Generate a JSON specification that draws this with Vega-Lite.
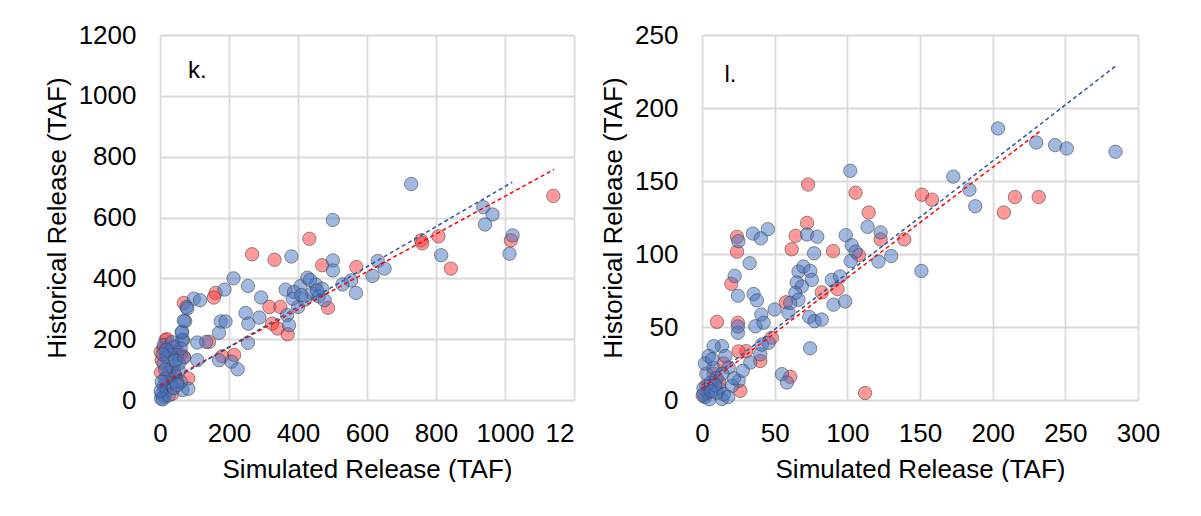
{
  "$schema": "https://vega.github.io/schema/vega-lite/v6.json",
  "background": "white",
  "padding": {"left": 44, "top": 22, "right": 0, "bottom": 0},
  "autosize": {"type": "pad"},
  "bounds": "flush",
  "spacing": 128,
  "config": {
    "view": {"stroke": null},
    "axis": {
      "labelFont": "Liberation Sans", "labelFontSize": 26, "labelColor": "#000",
      "titleFont": "Liberation Sans", "titleFontSize": 26, "titleFontWeight": "normal", "titleColor": "#000",
      "gridColor": "#d9d9d9", "gridWidth": 1.8, "ticks": false, "domain": false, "labelFlush": false, "format": "d"
    },
    "axisX": {"labelPadding": 20, "titlePadding": 10},
    "axisY": {"labelPadding": 24, "titlePadding": 8}
  },
  "datasets": {
    "k": [
      {"x":1140,"y":671,"s":"R"},{"x":757,"y":525,"s":"R"},{"x":760,"y":515,"s":"R"},{"x":807,"y":538,"s":"R"},
      {"x":1017,"y":525,"s":"R"},{"x":843,"y":432,"s":"R"},{"x":433,"y":530,"s":"R"},{"x":267,"y":479,"s":"R"},
      {"x":332,"y":461,"s":"R"},{"x":470,"y":443,"s":"R"},{"x":569,"y":437,"s":"R"},{"x":487,"y":303,"s":"R"},
      {"x":161,"y":352,"s":"R"},{"x":156,"y":337,"s":"R"},{"x":69,"y":319,"s":"R"},{"x":317,"y":306,"s":"R"},
      {"x":349,"y":306,"s":"R"},{"x":325,"y":251,"s":"R"},{"x":341,"y":235,"s":"R"},{"x":370,"y":216,"s":"R"},
      {"x":142,"y":191,"s":"R"},{"x":215,"y":148,"s":"R"},{"x":180,"y":144,"s":"R"},{"x":82,"y":71,"s":"R"},
      {"x":69,"y":142,"s":"R"},{"x":16,"y":197,"s":"R"},{"x":2,"y":158,"s":"R"},{"x":10,"y":170,"s":"R"},
      {"x":20,"y":200,"s":"R"},{"x":5,"y":130,"s":"R"},{"x":40,"y":100,"s":"R"},{"x":50,"y":60,"s":"R"},
      {"x":30,"y":80,"s":"R"},{"x":60,"y":150,"s":"R"},{"x":3,"y":90,"s":"R"},{"x":15,"y":40,"s":"R"},
      {"x":35,"y":20,"s":"R"},{"x":45,"y":175,"s":"R"},
      {"x":728,"y":710,"s":"B"},{"x":501,"y":592,"s":"B"},{"x":937,"y":634,"s":"B"},{"x":964,"y":610,"s":"B"},
      {"x":942,"y":577,"s":"B"},{"x":1022,"y":541,"s":"B"},{"x":1013,"y":481,"s":"B"},{"x":815,"y":476,"s":"B"},
      {"x":381,"y":472,"s":"B"},{"x":501,"y":459,"s":"B"},{"x":501,"y":426,"s":"B"},{"x":631,"y":457,"s":"B"},
      {"x":651,"y":432,"s":"B"},{"x":616,"y":408,"s":"B"},{"x":554,"y":393,"s":"B"},{"x":529,"y":380,"s":"B"},
      {"x":568,"y":352,"s":"B"},{"x":213,"y":400,"s":"B"},{"x":187,"y":363,"s":"B"},{"x":255,"y":375,"s":"B"},
      {"x":293,"y":337,"s":"B"},{"x":98,"y":333,"s":"B"},{"x":116,"y":328,"s":"B"},{"x":77,"y":306,"s":"B"},
      {"x":73,"y":259,"s":"B"},{"x":63,"y":221,"s":"B"},{"x":67,"y":197,"s":"B"},{"x":248,"y":286,"s":"B"},
      {"x":256,"y":251,"s":"B"},{"x":288,"y":271,"s":"B"},{"x":176,"y":258,"s":"B"},{"x":190,"y":258,"s":"B"},
      {"x":171,"y":221,"s":"B"},{"x":108,"y":189,"s":"B"},{"x":134,"y":191,"s":"B"},{"x":255,"y":188,"s":"B"},
      {"x":108,"y":131,"s":"B"},{"x":171,"y":131,"s":"B"},{"x":207,"y":126,"s":"B"},{"x":225,"y":101,"s":"B"},
      {"x":65,"y":33,"s":"B"},{"x":82,"y":37,"s":"B"},{"x":364,"y":363,"s":"B"},{"x":388,"y":355,"s":"B"},
      {"x":407,"y":374,"s":"B"},{"x":427,"y":402,"s":"B"},{"x":451,"y":380,"s":"B"},{"x":441,"y":350,"s":"B"},
      {"x":460,"y":341,"s":"B"},{"x":477,"y":328,"s":"B"},{"x":400,"y":306,"s":"B"},{"x":368,"y":279,"s":"B"},
      {"x":374,"y":246,"s":"B"},{"x":470,"y":366,"s":"B"},{"x":385,"y":333,"s":"B"},{"x":420,"y":330,"s":"B"},
      {"x":435,"y":395,"s":"B"},{"x":455,"y":360,"s":"B"},{"x":410,"y":345,"s":"B"},
      {"x":11,"y":181,"s":"B"},{"x":40,"y":175,"s":"B"},{"x":64,"y":197,"s":"B"},{"x":64,"y":225,"s":"B"},
      {"x":69,"y":261,"s":"B"},{"x":79,"y":301,"s":"B"},{"x":50,"y":148,"s":"B"},{"x":55,"y":120,"s":"B"},
      {"x":30,"y":160,"s":"B"},{"x":20,"y":140,"s":"B"},{"x":35,"y":110,"s":"B"},{"x":10,"y":120,"s":"B"},
      {"x":25,"y":90,"s":"B"},{"x":45,"y":80,"s":"B"},{"x":15,"y":70,"s":"B"},{"x":30,"y":55,"s":"B"},
      {"x":10,"y":45,"s":"B"},{"x":20,"y":30,"s":"B"},{"x":5,"y":20,"s":"B"},{"x":12,"y":10,"s":"B"},
      {"x":3,"y":5,"s":"B"},{"x":8,"y":2,"s":"B"},{"x":25,"y":15,"s":"B"},{"x":40,"y":40,"s":"B"},
      {"x":60,"y":60,"s":"B"},{"x":55,"y":95,"s":"B"},{"x":45,"y":130,"s":"B"},{"x":15,"y":100,"s":"B"},
      {"x":5,"y":60,"s":"B"},{"x":2,"y":30,"s":"B"},{"x":70,"y":140,"s":"B"},{"x":60,"y":170,"s":"B"},
      {"x":35,"y":190,"s":"B"},{"x":18,"y":165,"s":"B"},{"x":8,"y":150,"s":"B"},{"x":50,"y":50,"s":"B"}
    ],
    "kt": [
      {"x":0,"y":49,"s":"R"},{"x":1142,"y":758,"s":"R"},
      {"x":0,"y":42,"s":"B"},{"x":1021,"y":716,"s":"B"}
    ],
    "l": [
      {"x":73,"y":147.6,"s":"R"},{"x":105.7,"y":142,"s":"R"},{"x":114.7,"y":128.4,"s":"R"},{"x":151.4,"y":140.6,"s":"R"},
      {"x":158.3,"y":137.2,"s":"R"},{"x":215.3,"y":139,"s":"R"},{"x":231.7,"y":139,"s":"R"},{"x":207.7,"y":128.4,"s":"R"},
      {"x":72.3,"y":121.3,"s":"R"},{"x":64.4,"y":112.5,"s":"R"},{"x":122.9,"y":110,"s":"R"},{"x":139.2,"y":110,"s":"R"},
      {"x":24.1,"y":111.8,"s":"R"},{"x":24.1,"y":101.6,"s":"R"},{"x":61.7,"y":103.2,"s":"R"},{"x":90.2,"y":102,"s":"R"},
      {"x":107.9,"y":99.3,"s":"R"},{"x":20.2,"y":79.6,"s":"R"},{"x":82.4,"y":73.7,"s":"R"},{"x":93.2,"y":76,"s":"R"},
      {"x":57.7,"y":66.9,"s":"R"},{"x":10.3,"y":53.5,"s":"R"},{"x":24.7,"y":52.9,"s":"R"},{"x":48.1,"y":42.7,"s":"R"},
      {"x":30.4,"y":33.5,"s":"R"},{"x":25.2,"y":33.3,"s":"R"},{"x":40.1,"y":26.7,"s":"R"},{"x":60.7,"y":15.9,"s":"R"},
      {"x":112.2,"y":4.8,"s":"R"},{"x":26.4,"y":6.3,"s":"R"},{"x":3,"y":10,"s":"R"},{"x":8,"y":18,"s":"R"},
      {"x":15,"y":25,"s":"R"},{"x":1,"y":4,"s":"R"},{"x":12,"y":12,"s":"R"},
      {"x":203.7,"y":186,"s":"B"},{"x":230,"y":176.4,"s":"B"},{"x":243,"y":174.6,"s":"B"},{"x":251,"y":172.3,"s":"B"},
      {"x":284.5,"y":170,"s":"B"},{"x":172.9,"y":153,"s":"B"},{"x":184,"y":144,"s":"B"},{"x":188,"y":132.7,"s":"B"},
      {"x":102,"y":157,"s":"B"},{"x":113.9,"y":118.6,"s":"B"},{"x":122.9,"y":114.8,"s":"B"},{"x":98.9,"y":112.9,"s":"B"},
      {"x":103,"y":106,"s":"B"},{"x":105.7,"y":101.6,"s":"B"},{"x":35,"y":114,"s":"B"},{"x":45.3,"y":117,"s":"B"},
      {"x":40.5,"y":110.7,"s":"B"},{"x":25,"y":108.8,"s":"B"},{"x":72.3,"y":113.4,"s":"B"},{"x":79.3,"y":111.8,"s":"B"},
      {"x":77.1,"y":100.5,"s":"B"},{"x":130.2,"y":98.6,"s":"B"},{"x":151,"y":88.4,"s":"B"},{"x":102.3,"y":95.2,"s":"B"},
      {"x":121.4,"y":94.8,"s":"B"},{"x":32.8,"y":93.7,"s":"B"},{"x":22.5,"y":85,"s":"B"},{"x":24.7,"y":71.4,"s":"B"},
      {"x":35.5,"y":72.6,"s":"B"},{"x":37.8,"y":68.2,"s":"B"},{"x":50,"y":62,"s":"B"},{"x":40.8,"y":58.5,"s":"B"},
      {"x":36.7,"y":50.5,"s":"B"},{"x":42.4,"y":52.9,"s":"B"},{"x":24.7,"y":46,"s":"B"},{"x":24.7,"y":50.4,"s":"B"},
      {"x":66.4,"y":88,"s":"B"},{"x":69.8,"y":91.4,"s":"B"},{"x":74.5,"y":88.4,"s":"B"},{"x":75.6,"y":82.3,"s":"B"},
      {"x":65.2,"y":80.5,"s":"B"},{"x":68.7,"y":77.8,"s":"B"},{"x":64.2,"y":73.3,"s":"B"},{"x":66.4,"y":68.7,"s":"B"},
      {"x":59.5,"y":59.7,"s":"B"},{"x":60.7,"y":66.5,"s":"B"},{"x":89.3,"y":82.3,"s":"B"},{"x":95,"y":84.6,"s":"B"},
      {"x":90.5,"y":65.3,"s":"B"},{"x":98.5,"y":67.5,"s":"B"},{"x":73.8,"y":56.9,"s":"B"},{"x":77.4,"y":54,"s":"B"},
      {"x":82.4,"y":55.1,"s":"B"},{"x":74.4,"y":35.4,"s":"B"},{"x":55,"y":17.7,"s":"B"},{"x":58.4,"y":12,"s":"B"},
      {"x":33.2,"y":25.6,"s":"B"},{"x":40.1,"y":31.3,"s":"B"},{"x":41.2,"y":38,"s":"B"},{"x":45.8,"y":39.2,"s":"B"},
      {"x":13.7,"y":36.9,"s":"B"},{"x":8,"y":36.9,"s":"B"},{"x":16.1,"y":30.1,"s":"B"},{"x":4.6,"y":30.1,"s":"B"},
      {"x":18.3,"y":22.2,"s":"B"},{"x":25.2,"y":13.1,"s":"B"},{"x":13.7,"y":0.7,"s":"B"},{"x":20.6,"y":9.7,"s":"B"},
      {"x":2,"y":2,"s":"B"},{"x":4,"y":5,"s":"B"},{"x":1,"y":8,"s":"B"},{"x":6,"y":12,"s":"B"},
      {"x":3,"y":18,"s":"B"},{"x":8,"y":22,"s":"B"},{"x":10,"y":15,"s":"B"},{"x":12,"y":8,"s":"B"},
      {"x":15,"y":4,"s":"B"},{"x":5,"y":0.5,"s":"B"},{"x":0.5,"y":3,"s":"B"},{"x":2,"y":25,"s":"B"},
      {"x":7,"y":28,"s":"B"},{"x":10,"y":5,"s":"B"},{"x":18,"y":2,"s":"B"},{"x":22,"y":15,"s":"B"},
      {"x":28,"y":20,"s":"B"},{"x":14,"y":18,"s":"B"},{"x":9,"y":10,"s":"B"},{"x":6,"y":6,"s":"B"}
    ],
    "lt": [
      {"x":0,"y":8,"s":"R"},{"x":232.5,"y":184,"s":"R"},
      {"x":0,"y":10,"s":"B"},{"x":285,"y":229,"s":"B"}
    ]
  },
  "hconcat": [
    {
      "width": 414, "height": 365,
      "layer": [
        {
          "data": {"name": "k"},
          "mark": {"type": "circle", "size": 180, "fillOpacity": 0.5, "stroke": "#404040", "strokeOpacity": 0.55, "strokeWidth": 1},
          "encoding": {
            "x": {"field": "x", "type": "quantitative", "scale": {"domain": [0, 1200], "nice": false},
              "axis": {"values": [0, 200, 400, 600, 800, 1000, 1200], "title": "Simulated Release (TAF)",
                "labelExpr": "datum.value == 1200 ? '12' : datum.label",
                "labelAlign": {"condition": {"test": "datum.value == 1200", "value": "right"}, "value": "center"}}},
            "y": {"field": "y", "type": "quantitative", "scale": {"domain": [0, 1200], "nice": false},
              "axis": {"values": [0, 200, 400, 600, 800, 1000, 1200], "title": "Historical Release (TAF)"}},
            "color": {"field": "s", "type": "nominal", "scale": {"domain": ["R", "B"], "range": ["#FF3333", "#4472C4"]}, "legend": null}
          }
        },
        {
          "data": {"name": "kt"},
          "mark": {"type": "line", "strokeDash": [4, 3], "strokeWidth": 1.5},
          "encoding": {
            "x": {"field": "x", "type": "quantitative"},
            "y": {"field": "y", "type": "quantitative"},
            "stroke": {"field": "s", "type": "nominal", "scale": {"domain": ["R", "B"], "range": ["#FF0000", "#2F5597"]}, "legend": null}
          }
        },
        {
          "data": {"values": [{"t": "k."}]},
          "mark": {"type": "text", "align": "left", "baseline": "alphabetic", "fontSize": 24, "font": "Liberation Sans", "color": "#000"},
          "encoding": {"x": {"datum": 81}, "y": {"datum": 1059}, "text": {"field": "t"}}
        }
      ]
    },
    {
      "width": 436, "height": 365,
      "layer": [
        {
          "data": {"name": "l"},
          "mark": {"type": "circle", "size": 180, "fillOpacity": 0.5, "stroke": "#404040", "strokeOpacity": 0.55, "strokeWidth": 1},
          "encoding": {
            "x": {"field": "x", "type": "quantitative", "scale": {"domain": [0, 300], "nice": false},
              "axis": {"values": [0, 50, 100, 150, 200, 250, 300], "title": "Simulated Release (TAF)"}},
            "y": {"field": "y", "type": "quantitative", "scale": {"domain": [0, 250], "nice": false},
              "axis": {"values": [0, 50, 100, 150, 200, 250], "title": "Historical Release (TAF)"}},
            "color": {"field": "s", "type": "nominal", "scale": {"domain": ["R", "B"], "range": ["#FF3333", "#4472C4"]}, "legend": null}
          }
        },
        {
          "data": {"name": "lt"},
          "mark": {"type": "line", "strokeDash": [4, 3], "strokeWidth": 1.5},
          "encoding": {
            "x": {"field": "x", "type": "quantitative"},
            "y": {"field": "y", "type": "quantitative"},
            "stroke": {"field": "s", "type": "nominal", "scale": {"domain": ["R", "B"], "range": ["#FF0000", "#2F5597"]}, "legend": null}
          }
        },
        {
          "data": {"values": [{"t": "l."}]},
          "mark": {"type": "text", "align": "left", "baseline": "alphabetic", "fontSize": 24, "font": "Liberation Sans", "color": "#000"},
          "encoding": {"x": {"datum": 15.4}, "y": {"datum": 218}, "text": {"field": "t"}}
        }
      ]
    }
  ]
}
